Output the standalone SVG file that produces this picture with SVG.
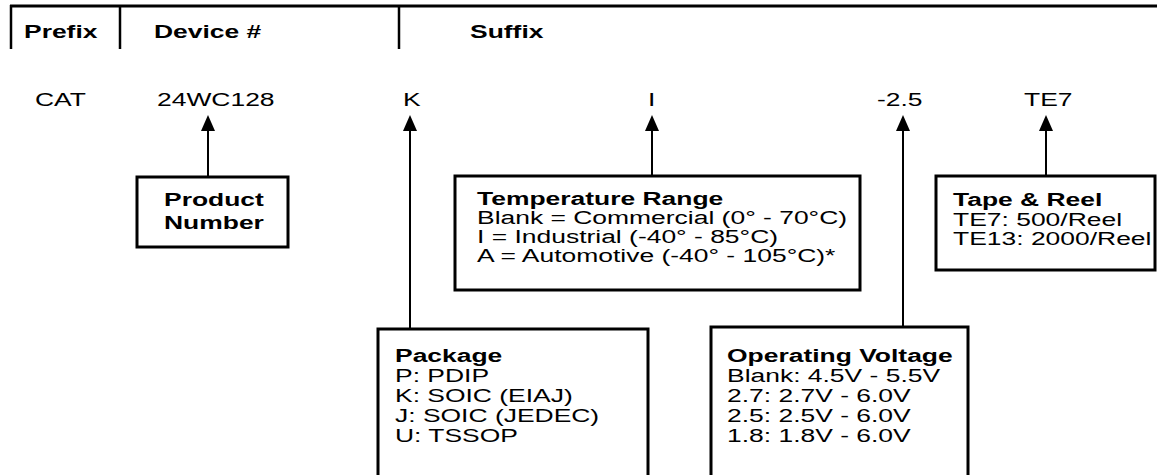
<svg xmlns="http://www.w3.org/2000/svg" width="1157" height="475" viewBox="0 0 1157 475">
<style>
text{font-family:"Liberation Sans",Arial,Helvetica,sans-serif;font-size:18px;fill:#000}
.b{font-weight:bold}
.box{fill:#fff;stroke:#000;stroke-width:3}
.hdr{stroke:#000;stroke-width:3;fill:none}
.sep{stroke:#000;stroke-width:2.5;fill:none}
.con{stroke:#000;stroke-width:2;fill:none;marker-end:url(#ah)}
</style>
<defs>
<marker id="ah" markerUnits="userSpaceOnUse" markerWidth="16" markerHeight="14" refX="0" refY="7" orient="auto" viewBox="0 0 16 14">
<path d="M0,0 L16,7 L0,14 Z" fill="#000"/>
</marker>
</defs>
<rect width="1157" height="475" fill="#fff"/>
<g id="header">
<line class="hdr" x1="10" y1="6" x2="1157" y2="6"/>
<line class="sep" x1="11" y1="5" x2="11" y2="49"/>
<line class="sep" x1="120" y1="5" x2="120" y2="49"/>
<line class="sep" x1="399" y1="5" x2="399" y2="49"/>
<text class="b" transform="translate(24,38) scale(1.47,1)">Prefix</text>
<text class="b" transform="translate(154,38) scale(1.47,1)">Device #</text>
<text class="b" transform="translate(470,38) scale(1.47,1)">Suffix</text>
</g>
<g id="part-code">
<text transform="translate(35,106) scale(1.47,1)">CAT</text>
<text transform="translate(157,106) scale(1.47,1)">24WC128</text>
<text transform="translate(403,106) scale(1.47,1)">K</text>
<text transform="translate(648,106) scale(1.47,1)">I</text>
<text transform="translate(877,106) scale(1.47,1)">-2.5</text>
<text transform="translate(1024,106) scale(1.47,1)">TE7</text>
</g>
<g id="connectors">
<line class="con" x1="208" y1="177" x2="208" y2="131"/>
<line class="con" x1="410" y1="329" x2="410" y2="131"/>
<line class="con" x1="652" y1="176" x2="652" y2="131"/>
<line class="con" x1="903" y1="327" x2="903" y2="131"/>
<line class="con" x1="1046" y1="176" x2="1046" y2="131"/>
</g>
<g id="product-number">
<rect class="box" x="137" y="177" width="151" height="70"/>
<text class="b" transform="translate(164,206) scale(1.47,1)">Product</text>
<text class="b" transform="translate(164,229) scale(1.47,1)">Number</text>
</g>
<g id="temperature-range">
<rect class="box" x="455" y="176" width="405" height="114"/>
<text class="b" transform="translate(477,205) scale(1.47,1)">Temperature Range</text>
<text transform="translate(477,224) scale(1.47,1)">Blank = Commercial (0° - 70°C)</text>
<text transform="translate(477,243) scale(1.47,1)">I = Industrial (-40° - 85°C)</text>
<text transform="translate(477,262) scale(1.47,1)">A = Automotive (-40° - 105°C)*</text>
</g>
<g id="tape-reel">
<rect class="box" x="936" y="176" width="219" height="94"/>
<text class="b" transform="translate(953,206) scale(1.47,1)">Tape &amp; Reel</text>
<text transform="translate(953,226) scale(1.47,1)">TE7: 500/Reel</text>
<text transform="translate(953,245) scale(1.47,1)">TE13: 2000/Reel</text>
</g>
<g id="package">
<rect class="box" x="378" y="329" width="270" height="160"/>
<text class="b" transform="translate(395,362) scale(1.47,1)">Package</text>
<text transform="translate(395,382) scale(1.47,1)">P: PDIP</text>
<text transform="translate(395,402) scale(1.47,1)">K: SOIC (EIAJ)</text>
<text transform="translate(395,422) scale(1.47,1)">J: SOIC (JEDEC)</text>
<text transform="translate(395,442) scale(1.47,1)">U: TSSOP</text>
</g>
<g id="operating-voltage">
<rect class="box" x="711" y="327" width="257" height="160"/>
<text class="b" transform="translate(727,362) scale(1.47,1)">Operating Voltage</text>
<text transform="translate(727,382) scale(1.47,1)">Blank: 4.5V - 5.5V</text>
<text transform="translate(727,402) scale(1.47,1)">2.7: 2.7V - 6.0V</text>
<text transform="translate(727,422) scale(1.47,1)">2.5: 2.5V - 6.0V</text>
<text transform="translate(727,442) scale(1.47,1)">1.8: 1.8V - 6.0V</text>
</g>
</svg>
